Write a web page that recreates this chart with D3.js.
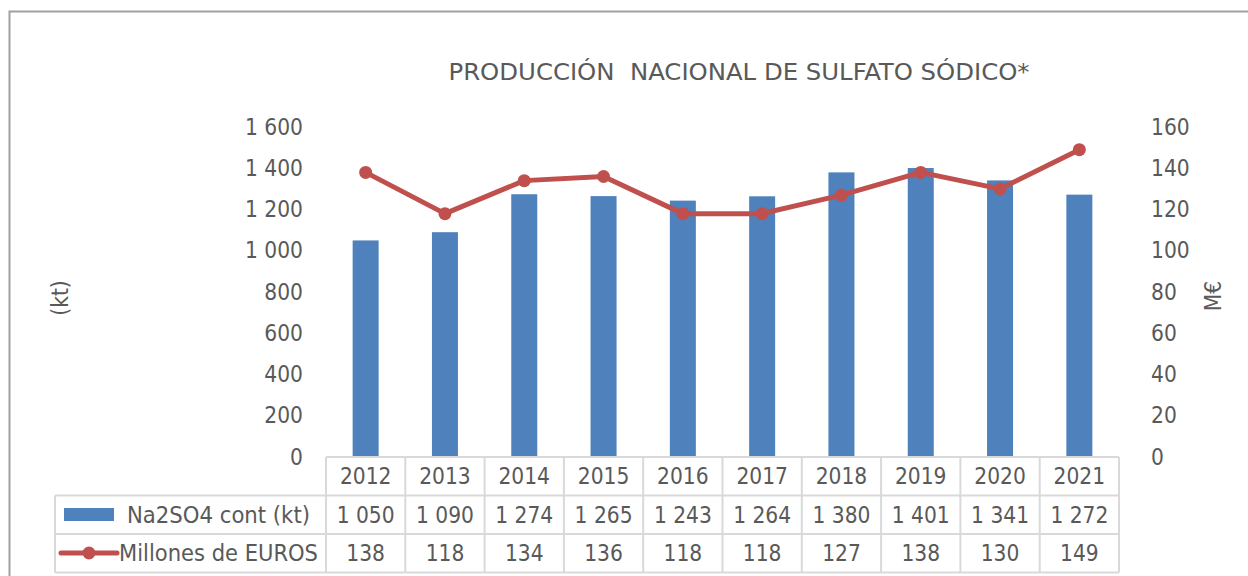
<!DOCTYPE html>
<html>
<head>
<meta charset="utf-8">
<script src="https://cdn.jsdelivr.net/npm/d3@7"></script>
<style>
  body { margin: 0; background: #fff; }
  text { font-family: Tahoma, "DejaVu Sans Condensed", "DejaVu Sans", sans-serif; fill: #595959; }
</style>
</head>
<body>
<div id="chart"></div>
<script>
var years = ["2012", "2013", "2014", "2015", "2016", "2017", "2018", "2019", "2020", "2021"];
var kt = [1050, 1090, 1274, 1265, 1243, 1264, 1380, 1401, 1341, 1272];
var euros = [138, 118, 134, 136, 118, 118, 127, 138, 130, 149];
var leftTicks = [0, 200, 400, 600, 800, 1000, 1200, 1400, 1600];
var rightTicks = [0, 20, 40, 60, 80, 100, 120, 140, 160];
var seriesNames = ["Na2SO4 cont (kt)", "Millones de EUROS"];

var svgWidth = 1248;
var svgHeight = 576;

var plot = { left: 326, right: 1119, top: 127, bottom: 457 };
var rowH = 38.5;
var legendLeft = 55;

var blue = "#4F81BD";
var red = "#C0504D";
var gridColor = "#d9d9d9";
var fontSize = 22.5;

// thousands with a space, like the source
var fmt = function(d) {
  return d3.format(",")(d).replace(/,/g, " ");
};

var svg = d3.select("#chart").append("svg")
  .attr("width", svgWidth)
  .attr("height", svgHeight);

// outer frame
svg.append("rect")
  .attr("x", 9.5).attr("y", 11.5)
  .attr("width", svgWidth + 20).attr("height", svgHeight + 20)
  .attr("fill", "none")
  .attr("stroke", "#a0a0a0")
  .attr("stroke-width", 2);

var x = d3.scaleBand()
  .domain(years)
  .range([plot.left, plot.right]);

var yLeft = d3.scaleLinear().domain([0, 1600]).range([plot.bottom, plot.top]);
var yRight = d3.scaleLinear().domain([0, 160]).range([plot.bottom, plot.top]);

// title
svg.append("text")
  .attr("x", 739)
  .attr("y", 80)
  .attr("text-anchor", "middle")
  .style("font-size", "23px")
  .style("white-space", "pre")
  .attr("textLength", 581)
  .attr("lengthAdjust", "spacingAndGlyphs")
  .text("PRODUCCIÓN  NACIONAL DE SULFATO SÓDICO*");

// left axis labels
var leftAxis = d3.axisLeft(yLeft).tickValues(leftTicks).tickFormat(fmt).tickSize(0).tickPadding(0);
var gl = svg.append("g").attr("transform", "translate(303,0)").call(leftAxis);
gl.select(".domain").remove();
gl.selectAll("text").style("font-size", fontSize + "px").attr("fill", "#595959").style("font-family", null);

var rightAxis = d3.axisRight(yRight).tickValues(rightTicks).tickSize(0).tickPadding(0);
var gr = svg.append("g").attr("transform", "translate(1151,0)").call(rightAxis);
gr.select(".domain").remove();
gr.selectAll("text").style("font-size", fontSize + "px").attr("fill", "#595959").style("font-family", null);

// axis titles
svg.append("text")
  .attr("transform", "translate(68,298) rotate(-90)")
  .attr("text-anchor", "middle")
  .style("font-size", fontSize + "px")
  .text("(kt)");

svg.append("text")
  .attr("transform", "translate(1221,296) rotate(-90)")
  .attr("text-anchor", "middle")
  .style("font-size", fontSize + "px")
  .text("M€");

// bars
var barW = 26;
svg.selectAll("rect.bar")
  .data(years)
  .enter()
  .append("rect")
  .attr("class", "bar")
  .attr("x", (d) => x(d) + x.bandwidth() / 2 - barW / 2)
  .attr("y", (d, i) => yLeft(kt[i]))
  .attr("width", barW)
  .attr("height", (d, i) => plot.bottom - yLeft(kt[i]))
  .attr("fill", blue);

// line
var line = d3.line()
  .x((d, i) => x(years[i]) + x.bandwidth() / 2)
  .y((d) => yRight(d));

svg.append("path")
  .datum(euros)
  .attr("d", line)
  .attr("fill", "none")
  .attr("stroke", red)
  .attr("stroke-width", 5)
  .attr("stroke-linejoin", "round");

svg.selectAll("circle.pt")
  .data(euros)
  .enter()
  .append("circle")
  .attr("class", "pt")
  .attr("cx", (d, i) => x(years[i]) + x.bandwidth() / 2)
  .attr("cy", (d) => yRight(d))
  .attr("r", 6.5)
  .attr("fill", red);

// data table
var table = svg.append("g");
var row1 = plot.bottom + rowH;
var row2 = row1 + rowH;
var row3 = row2 + rowH;

// horizontal lines
table.append("line").attr("x1", plot.left).attr("x2", plot.right).attr("y1", plot.bottom).attr("y2", plot.bottom);
[row1, row2, row3].forEach(function(yy) {
  table.append("line").attr("x1", legendLeft).attr("x2", plot.right).attr("y1", yy).attr("y2", yy);
});
// vertical lines
table.append("line").attr("x1", legendLeft).attr("x2", legendLeft).attr("y1", row1).attr("y2", row3);
years.concat(["end"]).forEach(function(d, i) {
  var xx = i < years.length ? x(d) : plot.right;
  table.append("line").attr("x1", xx).attr("x2", xx).attr("y1", plot.bottom).attr("y2", row3);
});
table.selectAll("line").attr("stroke", gridColor).attr("stroke-width", 2);

var cx = (d) => x(d) + x.bandwidth() / 2;

table.selectAll("text.yr").data(years).enter().append("text")
  .attr("x", cx).attr("y", plot.bottom + rowH / 2)
  .attr("dy", "0.36em").attr("text-anchor", "middle")
  .style("font-size", fontSize + "px").text((d) => d);

table.selectAll("text.kt").data(kt).enter().append("text")
  .attr("x", (d, i) => cx(years[i])).attr("y", row1 + rowH / 2)
  .attr("dy", "0.36em").attr("text-anchor", "middle")
  .style("font-size", fontSize + "px").text((d) => fmt(d));

table.selectAll("text.eu").data(euros).enter().append("text")
  .attr("x", (d, i) => cx(years[i])).attr("y", row2 + rowH / 2)
  .attr("dy", "0.36em").attr("text-anchor", "middle")
  .style("font-size", fontSize + "px").text((d) => d);

// legend keys
table.append("rect")
  .attr("x", 64).attr("y", 508).attr("width", 50).attr("height", 13)
  .attr("fill", blue);
table.append("text")
  .attr("x", 127).attr("y", row1 + rowH / 2).attr("dy", "0.36em")
  .attr("textLength", 183).attr("lengthAdjust", "spacingAndGlyphs")
  .style("font-size", fontSize + "px").text(seriesNames[0]);

table.append("line")
  .attr("x1", 61).attr("x2", 117).attr("y1", 553).attr("y2", 553)
  .attr("stroke", red).attr("stroke-width", 5).attr("stroke-linecap", "round");
table.append("circle").attr("cx", 89).attr("cy", 553).attr("r", 6.5).attr("fill", red);
table.append("text")
  .attr("x", 119).attr("y", row2 + rowH / 2).attr("dy", "0.36em")
  .attr("textLength", 199).attr("lengthAdjust", "spacingAndGlyphs")
  .style("font-size", fontSize + "px").text(seriesNames[1]);
</script>
</body>
</html>
